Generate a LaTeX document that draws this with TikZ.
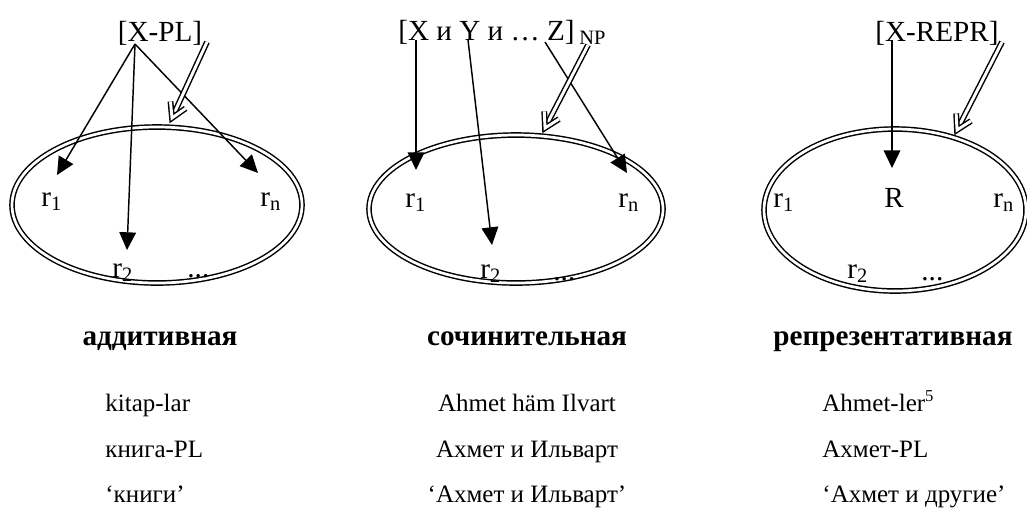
\documentclass[tikz,border=0pt]{standalone}
\usepackage{fontspec}
\setmainfont{Liberation Serif}
\usepackage{tikz}
\usetikzlibrary{arrows.meta,positioning,calc}
\tikzset{
  setline/.style={double,line width=0.7pt,double distance=1.3pt},
  pointer/.style={line width=0.7pt,-{Triangle[length=8.5pt,width=8pt]}},
  dblline/.style={double,line width=0.7pt,double distance=1.4pt,line join=miter,shorten >=1.5pt},
  dblhead/.style={double,line width=0.7pt,double distance=1.4pt,line join=miter},
  expr/.style={inner sep=0pt,anchor=base,font=\fontsize{14}{17}\selectfont},
  elem/.style={inner sep=0pt,anchor=base west,font=\fontsize{14}{17}\selectfont},
  kind/.style={inner sep=0pt,anchor=base,font=\fontsize{14}{17}\selectfont\bfseries},
  gloss/.style={inner sep=0pt,font=\fontsize{12}{14}\selectfont}
}

\begin{document}
\begin{tikzpicture}[x=0.48pt,y=-0.48pt]
\clip (0,0) rectangle (1027,509);
\useasboundingbox (0,0) rectangle (1027,509);

% additive
\node[expr] (xpl) at (160,41) {[X-PL]};
\draw[setline] (157,205) ellipse [x radius=145,y radius=78];
\node[elem] (ar1) at (41,206) {r\textsubscript{1}};
\node[elem] (arn) at (260,206) {r\textsubscript{n}};
\node[elem] (ar2) at (112,277) {r\textsubscript{2}};
\node[elem] (adots) at (187,277) {...};
\coordinate (as) at (135,44);
\coordinate (at1) at (57,175); \coordinate (at2) at (127,250); \coordinate (atn) at (258,173);
\draw[pointer] (as) -- (at1);
\draw[pointer] (as) -- (at2);
\draw[pointer] (as) -- (atn);
\coordinate (ad0) at (207,42); \coordinate (ad1) at (172,118);
\draw[dblline] (ad0) -- (ad1);
\draw[dblhead] ($(ad1)!8pt!-30:(ad0)$) -- (ad1) -- ($(ad1)!8pt!30:(ad0)$);

% coordinative
\node[expr,anchor=base west] (xyz) at (398,40) {[X и Y и … Z]\,\textsubscript{NP}};
\draw[setline] (516,209) ellipse [x radius=147,y radius=74];
\node[elem] (cr1) at (405,207) {r\textsubscript{1}};
\node[elem] (crn) at (618,207) {r\textsubscript{n}};
\node[elem] (cr2) at (480,278) {r\textsubscript{2}};
\node[elem] (cdots) at (553,280) {...};
\coordinate (cx) at (416,40); \coordinate (cy) at (468,40); \coordinate (cz) at (545,42);
\coordinate (ct1) at (416,170); \coordinate (ct2) at (492,245); \coordinate (ctn) at (627,173);
\draw[pointer] (cx) -- (ct1);
\draw[pointer] (cy) -- (ct2);
\draw[pointer] (cz) -- (ctn);
\coordinate (cd0) at (588,45); \coordinate (cd1) at (545,128);
\draw[dblline] (cd0) -- (cd1);
\draw[dblhead] ($(cd1)!8pt!-30:(cd0)$) -- (cd1) -- ($(cd1)!8pt!30:(cd0)$);

% representative
\node[expr] (xrepr) at (937,41) {[X-REPR]};
\draw[setline] (895,210) ellipse [x radius=131,y radius=81];
\node[elem] (rr1) at (773,207) {r\textsubscript{1}};
\node[elem] (rR) at (884,207) {R};
\node[elem] (rrn) at (993,207) {r\textsubscript{n}};
\node[elem] (rr2) at (847,278) {r\textsubscript{2}};
\node[elem] (rdots) at (921,280) {...};
\coordinate (rs) at (892,40); \coordinate (rt) at (892,168);
\draw[pointer] (rs) -- (rt);
\coordinate (rd0) at (1002,42); \coordinate (rd1) at (957,130);
\draw[dblline] (rd0) -- (rd1);
\draw[dblhead] ($(rd1)!8pt!-30:(rd0)$) -- (rd1) -- ($(rd1)!8pt!30:(rd0)$);

% captions and examples
\node[kind] (kadd) at (160,345) {аддитивная};
\node[kind] (kcoord) at (527,345) {сочинительная};
\node[kind] (krepr) at (893,345) {репрезентативная};

\node[gloss,anchor=base west] (ae1) at (105,411) {kitap-lar};
\node[gloss,anchor=base west] (ae2) at (105,457) {книга-PL};
\node[gloss,anchor=base west] (ae3) at (105,502) {‘книги’};

\node[gloss,anchor=base] (ce1) at (527,411) {Ahmet häm Ilvart};
\node[gloss,anchor=base] (ce2) at (527,457) {Ахмет и Ильварт};
\node[gloss,anchor=base] (ce3) at (527,502) {‘Ахмет и Ильварт’};

\node[gloss,anchor=base west] (re1) at (822,411) {Ahmet-ler\textsuperscript{5}};
\node[gloss,anchor=base west] (re2) at (822,457) {Ахмет-PL};
\node[gloss,anchor=base west] (re3) at (822,502) {‘Ахмет и другие’};
\end{tikzpicture}
\end{document}
